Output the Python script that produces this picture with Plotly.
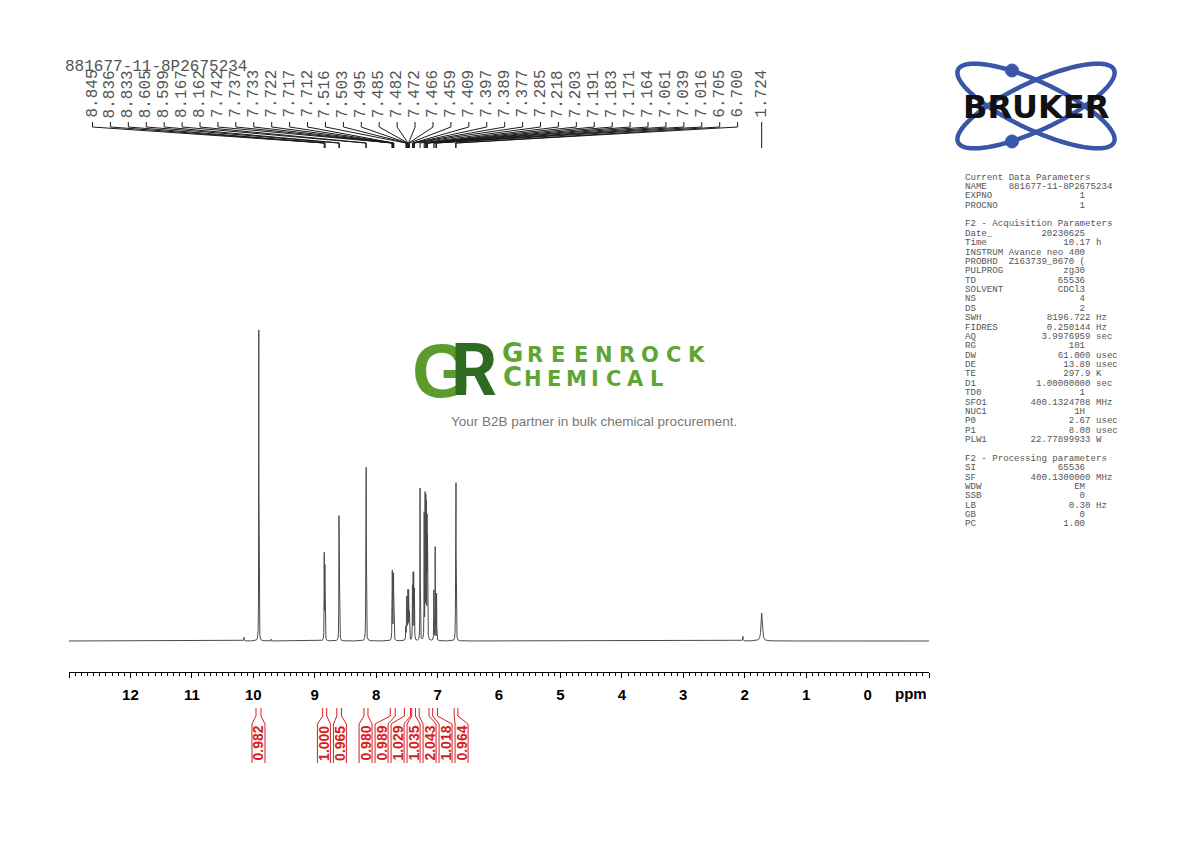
import numpy as np
import plotly.graph_objects as go

# ------------------------------------------------------------------ data
SAMPLE_NAME = "881677-11-8P2675234"

PEAK_PPM = [8.845, 8.836, 8.833, 8.605, 8.599, 8.167, 8.162,
            7.742, 7.737, 7.733, 7.722, 7.717, 7.712,
            7.516, 7.503, 7.495, 7.485, 7.482, 7.472, 7.466, 7.459,
            7.409, 7.397, 7.389, 7.377, 7.285,
            7.218, 7.203, 7.191, 7.183, 7.171, 7.164,
            7.061, 7.039, 7.016, 6.705, 6.700, 1.724]
PEAK_HEIGHT = [0.270, 0.170, 0.170, 0.360, 0.360, 0.480, 0.480,
               0.120, 0.175, 0.120, 0.120, 0.175, 0.120,
               0.090, 0.130, 0.100, 0.110, 0.110, 0.140, 0.100, 0.080,
               0.170, 0.200, 0.200, 0.160, 0.490,
               0.400, 0.450, 0.420, 0.400, 0.360, 0.300,
               0.160, 0.300, 0.150, 0.438, 0.438, 0.090]
PEAK_HWHM = [0.0022] * 37 + [0.012]

# signals present in the trace but not peak-picked
OTHER_PPM = [9.910, 10.150, 9.710, 2.030]
OTHER_HEIGHT = [1.000, 0.012, 0.006, 0.015]
OTHER_HWHM = [0.0022, 0.003, 0.003, 0.004]

INTEGRAL_FROM = [9.956, 8.870, 8.640, 8.198, 7.770, 7.540, 7.420, 7.300, 7.080, 6.730]
INTEGRAL_TO = [9.875, 8.805, 8.565, 8.133, 7.690, 7.440, 7.360, 7.140, 7.000, 6.670]
INTEGRAL_VALUE = ["0.982", "1.000", "0.965", "0.980", "0.989",
                  "1.029", "1.035", "2.043", "1.018", "0.964"]

X_TICKS = list(range(-1, 14))

PARAM_BLOCKS = [
    ("Current Data Parameters", [("NAME", SAMPLE_NAME, ""), ("EXPNO", "1", ""), ("PROCNO", "1", "")]),
    ("F2 - Acquisition Parameters", [
        ("Date_", "20230625", ""), ("Time", "10.17", "h"), ("INSTRUM", "Avance neo 400", ""),
        ("PROBHD", "Z163739_0670 (", ""), ("PULPROG", "zg30", ""), ("TD", "65536", ""),
        ("SOLVENT", "CDCl3", ""), ("NS", "4", ""), ("DS", "2", ""),
        ("SWH", "8196.722", "Hz"), ("FIDRES", "0.250144", "Hz"), ("AQ", "3.9976959", "sec"),
        ("RG", "101", ""), ("DW", "61.000", "usec"), ("DE", "13.89", "usec"),
        ("TE", "297.9", "K"), ("D1", "1.00000000", "sec"), ("TD0", "1", ""),
        ("SFO1", "400.1324708", "MHz"), ("NUC1", "1H", ""), ("P0", "2.67", "usec"),
        ("P1", "8.00", "usec"), ("PLW1", "22.77899933", "W")]),
    ("F2 - Processing parameters", [
        ("SI", "65536", ""), ("SF", "400.1300000", "MHz"), ("WDW", "EM", ""),
        ("SSB", "0", ""), ("LB", "0.30", "Hz"), ("GB", "0", ""), ("PC", "1.00", "")]),
]

# ------------------------------------------------------------------ geometry
W, H = 1190, 842
X_LEFT_PX, X_RIGHT_PX = 69, 929
PPM_MAX, PPM_MIN = 13.0, -1.0
PX_PER_PPM = (X_RIGHT_PX - X_LEFT_PX) / (PPM_MAX - PPM_MIN)
AXIS_Y = 672
SPEC_TOP_Y = 320


def px2ppm(px):
    return PPM_MAX - (px - X_LEFT_PX) / PX_PER_PPM


def ppm2px(p):
    return X_LEFT_PX + (PPM_MAX - p) * PX_PER_PPM


def xp(px):
    return (px - X_LEFT_PX) / (X_RIGHT_PX - X_LEFT_PX)


def yp(py):
    return (H - py) / H


# ------------------------------------------------------------------ spectrum trace
all_ppm = np.array(PEAK_PPM + OTHER_PPM)
all_h = np.array(PEAK_HEIGHT + OTHER_HEIGHT)
all_w = np.array(PEAK_HWHM + OTHER_HWHM)
grid = [np.linspace(PPM_MAX, PPM_MIN, 7001)]
for p, w in zip(all_ppm, all_w):
    span = max(0.04, 10 * w)
    grid.append(p + np.linspace(-span, span, 241))
xs = np.unique(np.concatenate(grid))[::-1]
ys = np.zeros_like(xs)
for p, h, w in zip(all_ppm, all_h, all_w):
    ys += h / (1.0 + ((xs - p) / w) ** 2)

fig = go.Figure()
fig.add_trace(go.Scatter(x=xs, y=ys, mode="lines", xaxis="x", yaxis="y",
                         line=dict(color="#4a4a4a", width=1), hoverinfo="skip"))

# ------------------------------------------------------------------ peak labels
LABEL_FIRST_PX = 92.5
LABEL_PITCH_PX = 17.92
N_CROWDED = 37
label_px = []
for i, p in enumerate(PEAK_PPM):
    label_px.append(LABEL_FIRST_PX + i * LABEL_PITCH_PX if i < N_CROWDED else ppm2px(p))

lx, ly = [], []
annotations = []
for p, lp in zip(PEAK_PPM, label_px):
    lpp = px2ppm(lp)
    lx += [lpp, lpp, p, p, None]
    ly += [122, 127, 143, 148, None]
    annotations.append(dict(x=lpp, y=94, xref="x", yref="y2", text=f"{p:.3f}", textangle=-90,
                            showarrow=False, xanchor="center", yanchor="middle",
                            font=dict(family="Liberation Mono", size=16, color="#555555")))
fig.add_trace(go.Scatter(x=lx, y=ly, mode="lines", xaxis="x", yaxis="y2",
                         line=dict(color="#1a1a1a", width=1), hoverinfo="skip"))

annotations.append(dict(x=xp(63), y=67, xref="paper", yref="y2", text=SAMPLE_NAME,
                        showarrow=False, xanchor="left", yanchor="middle",
                        font=dict(family="Liberation Mono", size=16, color="#555555")))

# ------------------------------------------------------------------ integrals
centers = [ppm2px((a + b) / 2) for a, b in zip(INTEGRAL_FROM, INTEGRAL_TO)]
GAP = 16.0
clusters = [[c] for c in centers]


def cluster_pos(cl):
    m = np.mean(cl)
    n = len(cl)
    return [m + (k - (n - 1) / 2) * GAP for k in range(n)]


merged = True
while merged:
    merged = False
    for i in range(len(clusters) - 1):
        if cluster_pos(clusters[i])[-1] + GAP > cluster_pos(clusters[i + 1])[0]:
            clusters[i] = clusters[i] + clusters.pop(i + 1)
            merged = True
            break
int_label_px = [v for cl in clusters for v in cluster_pos(cl)]

ix, iy = [], []
HALF = 6.5
for a, b, L, val in zip(INTEGRAL_FROM, INTEGRAL_TO, int_label_px, INTEGRAL_VALUE):
    ix += [a, a, px2ppm(L - HALF), px2ppm(L - HALF), None]
    iy += [708, 716, 724, 763, None]
    ix += [b, b, px2ppm(L + HALF), px2ppm(L + HALF), None]
    iy += [708, 716, 724, 763, None]
    annotations.append(dict(x=px2ppm(L), y=743, xref="x", yref="y2", text=val, textangle=-90,
                            showarrow=False, xanchor="center", yanchor="middle",
                            font=dict(family="Liberation Sans", size=14, color="#d42020", weight="bold")))
fig.add_trace(go.Scatter(x=ix, y=iy, mode="lines", xaxis="x", yaxis="y2",
                         line=dict(color="#d42020", width=1), hoverinfo="skip"))

annotations.append(dict(x=xp(911), y=693, xref="paper", yref="y2", text="ppm", showarrow=False,
                        xanchor="center", yanchor="middle",
                        font=dict(family="Liberation Sans", size=15, color="black", weight="bold")))

# ------------------------------------------------------------------ parameter panel
NB = "\u00a0"
lines = []
for bi, (head, rows) in enumerate(PARAM_BLOCKS):
    if bi > 0:
        lines.append("")
    lines.append(head)
    for name, val, unit in rows:
        if unit:
            s = f"{name:<9}{val:>14} {unit}"
        else:
            s = f"{name:<8}{val:>14}"
        lines.append(s)
LINE_Y0, LINE_DY = 177, 9.378
for k, s in enumerate(lines):
    if not s:
        continue
    annotations.append(dict(x=xp(963), y=LINE_Y0 + k * LINE_DY, xref="paper", yref="y2",
                            text=s.replace(" ", NB), showarrow=False, xanchor="left", yanchor="middle",
                            font=dict(family="Liberation Mono", size=9.1, color="#555555")))

# ------------------------------------------------------------------ Greenrock watermark
annotations.append(dict(x=xp(441), y=370, xref="paper", yref="y2", text="G", showarrow=False,
                        xanchor="center", yanchor="middle",
                        font=dict(family="Liberation Sans", size=76, color="#5c9c2e", weight="bold")))
annotations.append(dict(x=xp(474), y=370, xref="paper", yref="y2", text="R", showarrow=False,
                        xanchor="center", yanchor="middle",
                        font=dict(family="Roboto", size=72, color="#2f6a21", weight="bold")))
word1 = "GREENROCK"
word1_x = [512, 535, 558, 581, 604, 627, 650, 673, 696]
word2 = "CHEMICAL"
word2_x = [512, 533, 554, 576, 595, 613, 635, 656]
for word, wx, ycap in ((word1, word1_x, 353), (word2, word2_x, 377)):
    for k, (ch, cx) in enumerate(zip(word, wx)):
        size = 26 if k == 0 else 21
        yy = ycap if k == 0 else ycap + 2
        annotations.append(dict(x=xp(cx), y=yy, xref="paper", yref="y2", text=ch, showarrow=False,
                                xanchor="center", yanchor="middle",
                                font=dict(family="DejaVu Sans", size=size, color="#5fa533", weight="bold")))
annotations.append(dict(x=xp(594), y=421, xref="paper", yref="y2",
                        text="Your B2B partner in bulk chemical procurement.", showarrow=False,
                        xanchor="center", yanchor="middle",
                        font=dict(family="Liberation Sans", size=13.5, color="#777777")))

# ------------------------------------------------------------------ Bruker logo
shapes = []
BCX, BCY = 1036, 106
ell = []
for phi_deg in (25, -25):
    t = np.linspace(0, 2 * np.pi, 181)
    phi = np.radians(phi_deg)
    a, b = 86, 24
    ex = BCX + a * np.cos(t) * np.cos(phi) - b * np.sin(t) * np.sin(phi)
    ey = BCY + a * np.cos(t) * np.sin(phi) + b * np.sin(t) * np.cos(phi)
    ell.append((ex, ey))
    path = "M " + " L ".join(f"{xp(u):.5f},{yp(v):.5f}" for u, v in zip(ex, ey)) + " Z"
    shapes.append(dict(type="path", xref="paper", yref="paper", path=path,
                       line=dict(color="#3a56a8", width=4.5)))
exA, eyA = ell[0]
sel = np.abs(exA - 1012) < 3
dot1 = (1012, eyA[sel].min())
exB, eyB = ell[1]
sel = np.abs(exB - 1012) < 3
dot2 = (1012, eyB[sel].max())
for dx, dy in (dot1, dot2):
    r = 6.5
    shapes.append(dict(type="circle", xref="paper", yref="paper",
                       x0=xp(dx - r), x1=xp(dx + r), y0=yp(dy + r), y1=yp(dy - r),
                       fillcolor="#3a56a8", line=dict(color="#3a56a8", width=1)))
annotations.append(dict(x=xp(BCX), y=107, xref="paper", yref="y2", text="BRUKER", showarrow=False,
                        xanchor="center", yanchor="middle",
                        font=dict(family="DejaVu Sans", size=32, color="#111111", weight="bold")))

# ------------------------------------------------------------------ layout
fig.update_layout(
    width=W, height=H,
    margin=dict(l=X_LEFT_PX, r=W - X_RIGHT_PX, t=0, b=0),
    paper_bgcolor="white", plot_bgcolor="rgba(0,0,0,0)",
    showlegend=False,
    xaxis=dict(range=[PPM_MAX, PPM_MIN], anchor="free", position=yp(AXIS_Y),
               showline=True, linecolor="black", linewidth=1, showgrid=False, zeroline=False,
               tickmode="array", tickvals=X_TICKS,
               ticktext=["" if v in (-1, 13) else str(v) for v in X_TICKS],
               ticks="outside", ticklen=5, tickwidth=1, tickcolor="black",
               ticklabelstandoff=4,
               tickfont=dict(family="Liberation Sans", size=15, color="black", weight="bold"),
               minor=dict(dtick=0.1, tick0=0, ticks="outside", ticklen=2.5, tickcolor="black",
                          tickwidth=1, showgrid=False),
               fixedrange=True),
    yaxis=dict(domain=[yp(AXIS_Y), yp(SPEC_TOP_Y)], range=[-0.0997, 1.032], visible=False,
               fixedrange=True, anchor="x"),
    yaxis2=dict(domain=[0, 1], range=[H, 0], visible=False, fixedrange=True, anchor="x"),
    annotations=annotations,
    shapes=shapes,
)

fig.write_html("out.html", config={"displayModeBar": False},
               post_script="document.body.style.margin='0px';document.body.style.padding='0px';")
